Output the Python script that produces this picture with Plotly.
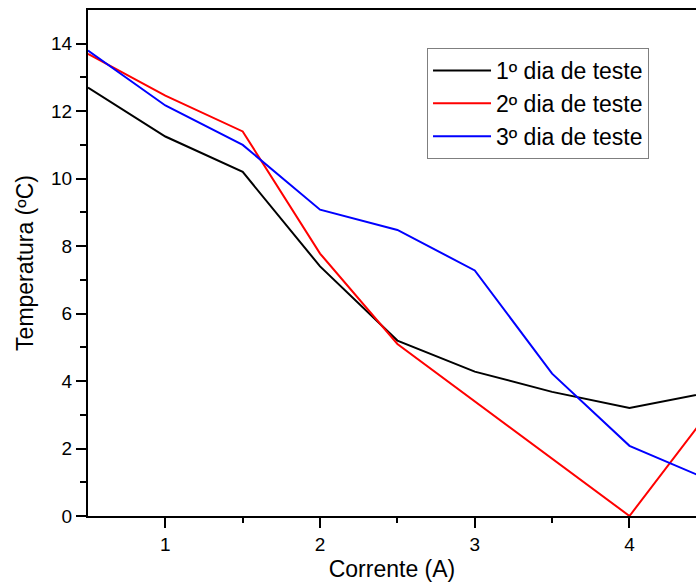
import plotly.graph_objects as go

corrente = [0.5, 1.0, 1.5, 2.0, 2.5, 3.0, 3.5, 4.0, 4.5]
dia1 = [12.7, 11.25, 10.2, 7.4, 5.2, 4.28, 3.68, 3.2, 3.65]
dia2 = [13.7, 12.46, 11.4, 7.78, 5.1, 3.4, 1.7, 0.0, 3.0]
dia3 = [13.8, 12.17, 11.0, 9.08, 8.48, 7.28, 4.22, 2.08, 1.1]
nomes = ["1º dia de teste", "2º dia de teste", "3º dia de teste"]
cores = ["#000000", "#ff0000", "#0000ff"]

fnt = "Arial, Liberation Sans, sans-serif"

fig = go.Figure()
for ys, nome, cor in zip([dia1, dia2, dia3], nomes, cores):
    fig.add_trace(go.Scatter(x=corrente, y=ys, mode="lines", name=nome,
                             line=dict(color=cor, width=2)))

fig.update_layout(
    width=696, height=582,
    margin=dict(l=88, r=0, t=10, b=66),
    paper_bgcolor="white", plot_bgcolor="white",
    font=dict(family=fnt, color="#000000"),
    showlegend=True,
    legend=dict(x=0.5576, y=0.925, xanchor="left", yanchor="top",
                bgcolor="white", bordercolor="#7f7f7f", borderwidth=1,
                font=dict(size=23, family=fnt), tracegroupgap=0,
                itemwidth=58),
)
fig.update_xaxes(
    range=[0.5, 4.43], showgrid=False, zeroline=False,
    showline=True, linecolor="black", linewidth=2, mirror=True,
    ticks="outside", ticklen=10, tickwidth=1.5, tickcolor="black",
    tickvals=[1, 2, 3, 4], ticktext=["1", "2", "3", "4"],
    tickfont=dict(size=19, family=fnt),
    minor=dict(ticks="outside", ticklen=5, tickwidth=1.5, tickcolor="black",
               tickvals=[1.5, 2.5, 3.5]),
    title=dict(text="Corrente (A)", font=dict(size=23, family=fnt), standoff=7),
)
fig.update_yaxes(
    range=[0, 15], showgrid=False, zeroline=False,
    showline=True, linecolor="black", linewidth=2, mirror=False,
    ticks="outside", ticklen=10, tickwidth=1.5, tickcolor="black",
    tickvals=[0, 2, 4, 6, 8, 10, 12, 14],
    tickfont=dict(size=19, family=fnt),
    minor=dict(ticks="outside", ticklen=6, tickwidth=1.5, tickcolor="black",
               tickvals=[1, 3, 5, 7, 9, 11, 13]),
    title=dict(text="Temperatura (ºC)", font=dict(size=23, family=fnt), standoff=11),
)

fig.write_html("out.html")
